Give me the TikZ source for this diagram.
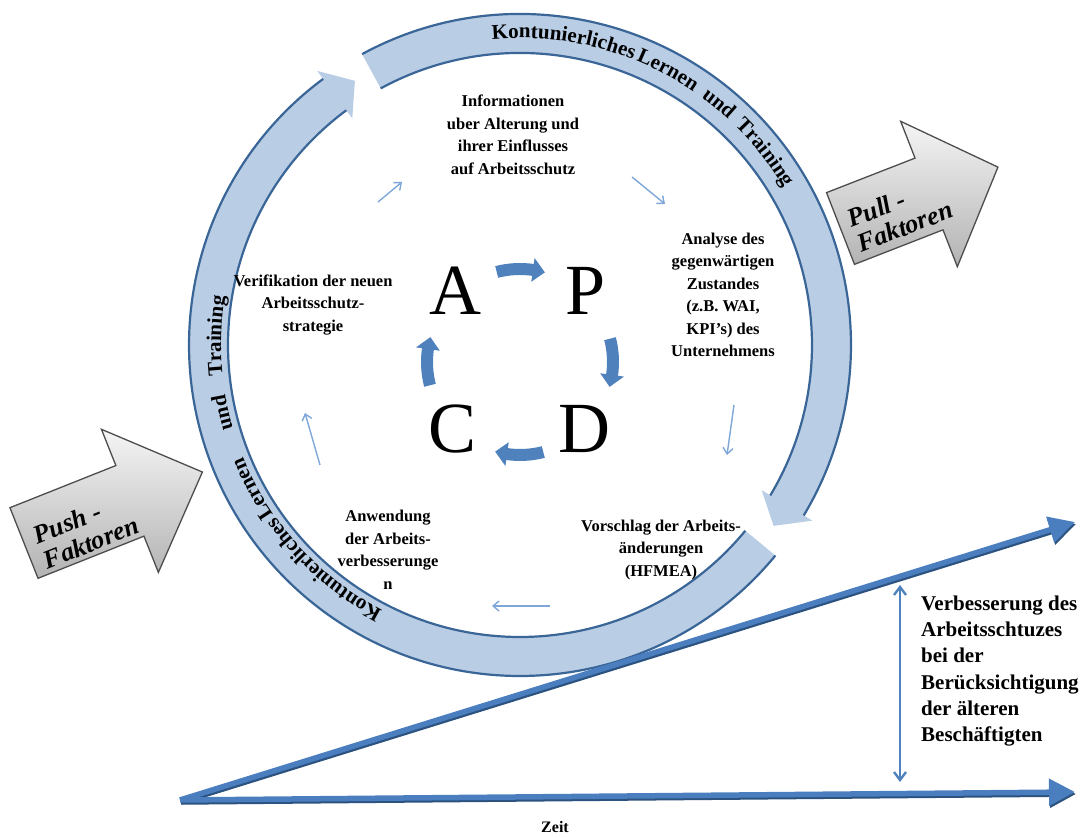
\documentclass[tikz,border=0pt]{standalone}
\usepackage{fontspec}
\setmainfont{Liberation Serif}
\usetikzlibrary{arrows.meta,decorations.text,calc}
\definecolor{ringfill}{HTML}{B9CDE5}
\definecolor{ringedge}{HTML}{3A6597}
\definecolor{pdcablue}{HTML}{4F81BD}
\definecolor{thinblue}{HTML}{7EA6D8}
\definecolor{axisblue}{HTML}{4A7EBE}
\definecolor{axisdark}{HTML}{2C5280}
\definecolor{blockedge}{HTML}{4D4D4D}
\newcommand\ringfont{\fontsize{21}{21}\selectfont\bfseries}
\begin{document}
\begin{tikzpicture}[x=1pt,y=1pt,
  ringedgeline/.style={draw=ringedge,line width=2.2pt},
  letter/.style={font=\fontsize{72}{72}\selectfont,anchor=base,inner sep=0pt},
  steplabel/.style={font=\fontsize{16.5}{22.5}\selectfont\bfseries,align=center,inner sep=0pt},
  thinarrow/.style={draw=thinblue,line width=1.4pt,-{Straight Barb[length=6pt,width=10pt]}},
  blockarrow/.style={draw=blockedge,line width=1.3pt,top color=black!4,bottom color=black!30},
  blocktext/.style={font=\fontsize{26}{27}\selectfont\bfseries\itshape,align=left,inner sep=0pt},
  axisline/.style={draw=axisblue,line width=5.5pt,-{Triangle[length=26pt,width=26pt]}},
  axisshadow/.style={draw=axisdark,line width=5.5pt,-{Triangle[length=26pt,width=26pt]},transform canvas={shift={(1pt,-2pt)}}},
  vertarrow/.style={draw=pdcablue,line width=2.4pt,{Straight Barb[length=8pt,width=12pt]}-{Straight Barb[length=8pt,width=12pt]}},
  sidetext/.style={font=\fontsize{21}{26.3}\selectfont\bfseries,align=left,inner sep=0pt}
]
\useasboundingbox (0,0) rectangle (1085,838);

% ---- ring (two curved arrows) ----
\begin{scope}[shift={(520,493)}]
  \fill[ringfill] (118.5:331pt) arc[start angle=118.5,end angle=-31,radius=331pt]
     -- (-31:341pt) -- (-35.5:311.5pt) -- (-31:282pt) -- (-31:292pt)
     arc[start angle=-31,end angle=118.5,radius=292pt] -- cycle;
  \draw[ringedgeline] (118.5:331pt) arc[start angle=118.5,end angle=-31,radius=331pt];
  \draw[ringedgeline] (118.5:292pt) arc[start angle=118.5,end angle=-31,radius=292pt];
  \fill[ringfill] (-39.5:331pt) arc[start angle=-39.5,end angle=-233.5,radius=331pt]
     -- (-233.5:341pt) -- (-238:311.5pt) -- (-233.5:282pt) -- (-233.5:292pt)
     arc[start angle=-233.5,end angle=-39.5,radius=292pt] -- cycle;
  \draw[ringedgeline] (-39.5:331pt) arc[start angle=-39.5,end angle=-233.5,radius=331pt];
  \draw[ringedgeline] (-39.5:292pt) arc[start angle=-39.5,end angle=-233.5,radius=292pt];
  % ring texts
  \path[decorate,decoration={text along path,text align=left,text={|\ringfont|Kontunierliches}}]
     (95.2:307pt) arc[start angle=95.2,end angle=55,radius=307pt];
  \path[decorate,decoration={text along path,text align=left,text={|\ringfont|Lernen}}]
     (67.8:307pt) arc[start angle=67.8,end angle=35,radius=307pt];
  \path[decorate,decoration={text along path,text align=left,text={|\ringfont|und}}]
     (53.8:307pt) arc[start angle=53.8,end angle=30,radius=307pt];
  \path[decorate,decoration={text along path,text align=left,text={|\ringfont|Training}}]
     (45.6:307pt) arc[start angle=45.6,end angle=10,radius=307pt];
  \path[decorate,decoration={text along path,text align=left,text={|\ringfont|Kontunierliches}}]
     (-117.4:299pt) arc[start angle=-117.4,end angle=-160,radius=299pt];
  \path[decorate,decoration={text along path,text align=left,text={|\ringfont|Lernen}}]
     (-145.5:299pt) arc[start angle=-145.5,end angle=-180,radius=299pt];
  \path[decorate,decoration={text along path,text align=left,text={|\ringfont|und}}]
     (-163.8:299pt) arc[start angle=-163.8,end angle=-190,radius=299pt];
  \path[decorate,decoration={text along path,text align=left,text={|\ringfont|Training}}]
     (-174.1:299pt) arc[start angle=-174.1,end angle=-210,radius=299pt];
\end{scope}

% ---- PDCA cycle ----
\begin{scope}[shift={(520,476)}]
  \foreach \t in {90,0,-90,180}{
    \fill[pdcablue] ({\t+14.5}:99pt) arc[start angle=\t+14.5,end angle=\t-8,radius=99pt]
      -- ({\t-8}:105pt) -- ({\t-15.5}:93pt) -- ({\t-8}:81pt) -- ({\t-8}:87pt)
      arc[start angle=\t-8,end angle=\t+14.5,radius=87pt] -- cycle;
  }
\end{scope}
\node[letter] (A) at (455,523) {A};
\node[letter] (P) at (586,523) {P};
\node[letter] (C) at (453,385) {C};
\node[letter] (D) at (584,385) {D};

% ---- step labels ----
\node[steplabel] (info) at (513,703) {Informationen\\uber Alterung und\\ihrer Einflusses\\auf Arbeitsschutz};
\node[steplabel] (analyse) at (723,543) {Analyse des\\gegenwärtigen\\Zustandes\\(z.B. WAI,\\KPI’s) des\\Unternehmens};
\node[steplabel] (vorschlag) at (661,288) {Vorschlag der Arbeits-\\änderungen\\(HFMEA)};
\node[steplabel] (anwendung) at (388,288) {Anwendung\\der Arbeits-\\verbesserunge\\n};
\node[steplabel] (verif) at (313,533) {Verifikation der neuen\\Arbeitsschutz-\\strategie};

% ---- thin arrows ----
\coordinate (t1s) at (378,636); \coordinate (t1e) at (402,656);
\coordinate (t2s) at (632,661); \coordinate (t2e) at (665,634);
\coordinate (t3s) at (734,433); \coordinate (t3e) at (727,383);
\coordinate (t4s) at (550,232); \coordinate (t4e) at (492,232);
\coordinate (t5s) at (320,373); \coordinate (t5e) at (305,425);
\draw[thinarrow] (t1s) -- (t1e);
\draw[thinarrow] (t2s) -- (t2e);
\draw[thinarrow] (t3s) -- (t3e);
\draw[thinarrow] (t4s) -- (t4e);
\draw[thinarrow] (t5s) -- (t5e);

% ---- push / pull block arrows ----
\begin{scope}[shift={(24,295)},rotate=21.7]
  \draw[blockarrow] (0,-38) -- (114,-38) -- (114,-77) -- (192,0) -- (114,77) -- (114,38) -- (0,38) -- cycle;
\end{scope}
\node[blocktext,rotate=21.7] (push) at (86,308) {Push -\\Faktoren};
\begin{scope}[shift={(840.5,609.5)},rotate=21.3]
  \draw[blockarrow] (0,-38.5) -- (95,-38.5) -- (95,-78) -- (169,0) -- (95,78) -- (95,38.5) -- (0,38.5) -- cycle;
\end{scope}
\node[blocktext,rotate=21.3] (pull) at (900,624) {Pull -\\Faktoren};

% ---- axes ----
\coordinate (O) at (180,38);
\coordinate (Dg) at (1075,316);
\coordinate (H) at (1075,46);
\draw[axisshadow] (O) -- (Dg);
\draw[axisshadow] (O) -- (H);
\draw[axisline] (O) -- (Dg);
\draw[axisline] (O) -- (H);
\coordinate (V1) at (900,253);
\coordinate (V2) at (900,56);
\draw[vertarrow] (V2) -- (V1);
\node[sidetext,anchor=west] (verb) at (921,167) {Verbesserung des\\Arbeitsschtuzes\\bei der\\Berücksichtigung\\der älteren\\Beschäftigten};
\node[font=\fontsize{16}{16}\selectfont\bfseries,inner sep=0pt] (zeit) at (555,11) {Zeit};
\end{tikzpicture}
\end{document}
